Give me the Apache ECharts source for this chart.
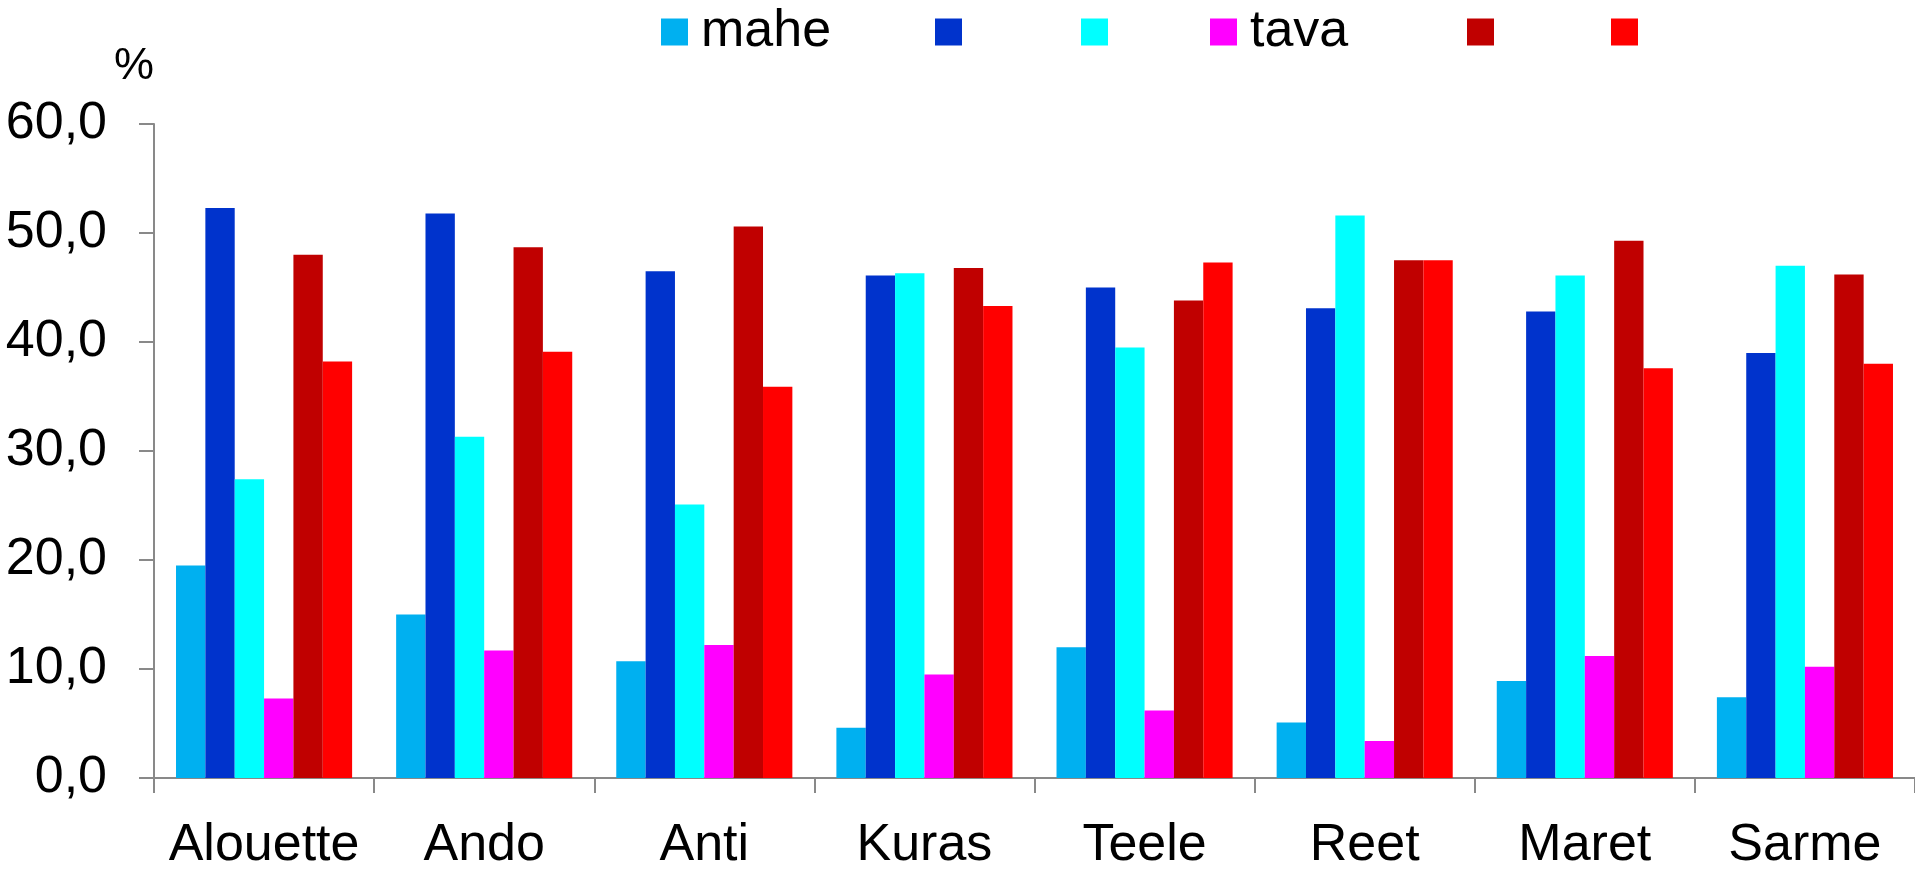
<!DOCTYPE html>
<html>
<head>
<meta charset="utf-8">
<script src="https://cdn.jsdelivr.net/npm/echarts@6/dist/echarts.min.js"></script>
<style>
html,body{margin:0;padding:0;background:#fff;}
#chart{width:1915px;height:872px;}
</style>
</head>
<body>
<div id="chart"></div>
<script>
var categories = ["Alouette","Ando","Anti","Kuras","Teele","Reet","Maret","Sarme"];
var seriesNames = ["mahe"," ","  ","tava","   ","    "];
var seriesColors = ["#00B0F0","#0033CC","#00FFFF","#FF00FF","#C00000","#FF0000"];
var mahe   = [19.5, 15.0, 10.7, 4.6, 12.0, 5.1, 8.9, 7.4];
var blue   = [52.3, 51.8, 46.5, 46.1, 45.0, 43.1, 42.8, 39.0];
var cyan   = [27.4, 31.3, 25.1, 46.3, 39.5, 51.6, 46.1, 47.0];
var tava   = [7.3, 11.7, 12.2, 9.5, 6.2, 3.4, 11.2, 10.2];
var dark   = [48.0, 48.7, 50.6, 46.8, 43.8, 47.5, 49.3, 46.2];
var red    = [38.2, 39.1, 35.9, 43.3, 47.3, 47.5, 37.6, 38.0];
var yTicks = [0, 10, 20, 30, 40, 50, 60];

var dataSets = [mahe, blue, cyan, tava, dark, red];
var legendLeft = [656, 930, 1076, 1205, 1462, 1606];

var font = "'Liberation Sans', Arial, sans-serif";
var chart = echarts.init(document.getElementById('chart'));

var legends = seriesNames.map(function(n, i){
  return {
    data: [n],
    left: legendLeft[i],
    top: 1,
    icon: 'rect',
    itemWidth: 27,
    itemHeight: 27,
    selectedMode: false,
    textStyle: {fontFamily: font, fontSize: 52, color: '#000', padding: [0,0,0,8]}
  };
});

var series = seriesNames.map(function(n, i){
  return {
    name: n,
    type: 'bar',
    data: dataSets[i],
    barGap: '0%',
    barCategoryGap: '20%',
    itemStyle: {color: seriesColors[i]},
    emphasis: {disabled: true}
  };
});

chart.setOption({
  animation: false,
  backgroundColor: '#fff',
  legend: legends,
  grid: {left: 154, top: 124, width: 1768, height: 659, containLabel: false},
  xAxis: {
    type: 'category',
    data: categories,
    boundaryGap: true,
    axisLine: {lineStyle: {color: '#898989', width: 2}},
    axisTick: {show: true, length: 15, lineStyle: {color: '#898989', width: 2}},
    axisLabel: {fontFamily: font, fontSize: 52, color: '#000', margin: 42, interval: 0},
    splitLine: {show: false}
  },
  yAxis: {
    type: 'value',
    min: yTicks[0],
    max: yTicks[yTicks.length-1],
    interval: 10,
    name: '%',
    nameLocation: 'end',
    nameGap: 35,
    nameTextStyle: {fontFamily: font, fontSize: 45, color: '#000', align: 'right', verticalAlign: 'bottom'},
    axisLine: {show: true, lineStyle: {color: '#898989', width: 2}},
    axisTick: {show: true, length: 15, lineStyle: {color: '#898989', width: 2}},
    axisLabel: {fontFamily: font, fontSize: 52, color: '#000', margin: 47,
      formatter: function(v){ return v.toFixed(1).replace('.', ','); }},
    splitLine: {show: false}
  },
  series: series
});
</script>
</body>
</html>
